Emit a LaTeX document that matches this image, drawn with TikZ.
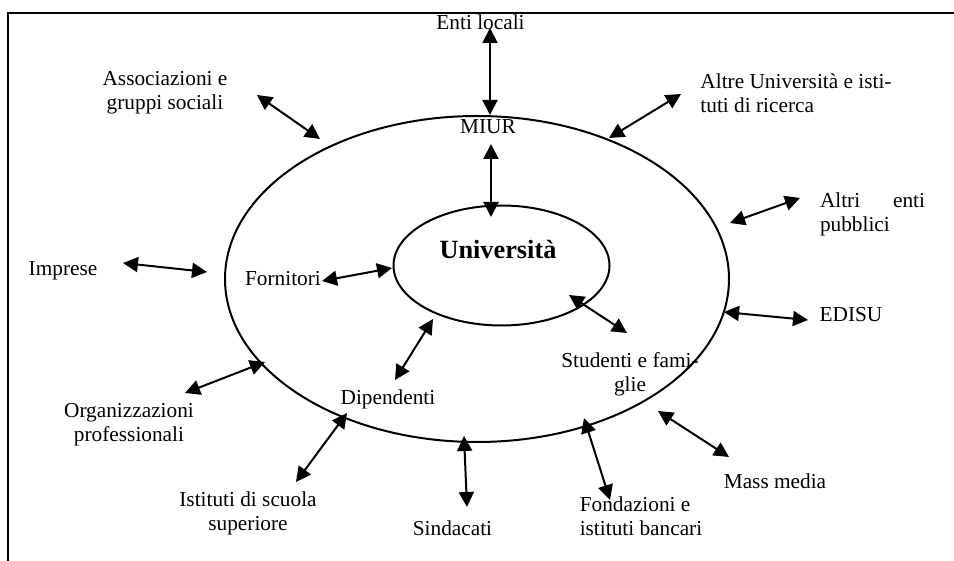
\documentclass[tikz,border=0pt]{standalone}
\usepackage{fontspec}
\setmainfont{Liberation Serif}
\usetikzlibrary{arrows.meta}

\begin{document}
\begin{tikzpicture}[x=0.5pt, y=-0.5pt,
        every node/.style={inner sep=0pt, font=\fontsize{10.65pt}{12pt}\selectfont},
        link/.style={{Triangle[length=7.5pt,width=7.5pt]}-{Triangle[length=7.5pt,width=7.5pt]}, line width=1pt}]
                \useasboundingbox (0,0) rectangle (954,561);
                \draw[line width=1pt] (8,561) -- (8,13) -- (954,13);

                \draw[line width=1pt] (477,279) ellipse [x radius=252, y radius=163];
                \draw[line width=1pt] (501.5,265.5) ellipse [x radius=108, y radius=60];

                \node (univ) at (498,249) {\fontsize{13.15pt}{14pt}\selectfont\bfseries Università};
                \node (enti) at (480.5,22) {Enti locali};
                \node (miur) at (488,127) {MIUR};
                \node[align=center] (assoc) at (165,93) {Associazioni e\\gruppi sociali};
                \node[align=left] (altre) at (796,93) {Altre Università e isti-\\tuti di ricerca};
                \node[align=left, text width=52.5pt] (altri) at (872.5,214) {Altri\hfill enti\\pubblici};
                \node (imprese) at (63,271) {Imprese};
                \node (fornitori) at (283,279) {Fornitori};
                \node (edisu) at (851,315) {EDISU};
                \node[align=center] (studenti) at (630,374) {Studenti e fami-\\glie};
                \node (dipendenti) at (388,399) {Dipendenti};
                \node[align=center] (organizz) at (129,425) {Organizzazioni\\professionali};
                \node (mass) at (775,481) {Mass media};
                \node[align=center] (istituti) at (248,513) {Istituti di scuola\\superiore};
                \node[align=left] (fondaz) at (641,516) {Fondazioni e\\istituti bancari};
                \node (sindacati) at (452.5,528) {Sindacati};

                \coordinate (enti1) at (490,28);    \coordinate (enti2) at (490,115);
                \coordinate (miur1) at (491,144);   \coordinate (miur2) at (491,217);
                \coordinate (assoc1) at (257,95);   \coordinate (assoc2) at (320,139);
                \coordinate (altre1) at (681,94);   \coordinate (altre2) at (609,138);
                \coordinate (altri1) at (800,198);  \coordinate (altri2) at (730,223);
                \coordinate (impr1) at (123,263);   \coordinate (impr2) at (207,272);
                \coordinate (forn1) at (322,281);   \coordinate (forn2) at (392,268);
                \coordinate (edisu1) at (724,312);  \coordinate (edisu2) at (808,320);
                \coordinate (stud1) at (569,295);   \coordinate (stud2) at (627,333);
                \coordinate (dip1) at (433,319);    \coordinate (dip2) at (395,380);
                \coordinate (org1) at (265,362);    \coordinate (org2) at (185,393);
                \coordinate (ist1) at (347,413);    \coordinate (ist2) at (296,482);
                \coordinate (sind1) at (464,436);   \coordinate (sind2) at (467,507);
                \coordinate (fond1) at (584,418);   \coordinate (fond2) at (610,500);
                \coordinate (mass1) at (658,411);   \coordinate (mass2) at (729,457);

                \draw[link] (enti1) -- (enti2);
                \draw[link] (miur1) -- (miur2);
                \draw[link] (assoc1) -- (assoc2);
                \draw[link] (altre1) -- (altre2);
                \draw[link] (altri1) -- (altri2);
                \draw[link] (impr1) -- (impr2);
                \draw[link] (forn1) -- (forn2);
                \draw[link] (edisu1) -- (edisu2);
                \draw[link] (stud1) -- (stud2);
                \draw[link] (dip1) -- (dip2);
                \draw[link] (org1) -- (org2);
                \draw[link] (ist1) -- (ist2);
                \draw[link] (sind1) -- (sind2);
                \draw[link] (fond1) -- (fond2);
                \draw[link] (mass1) -- (mass2);
            \end{tikzpicture}
\end{document}
